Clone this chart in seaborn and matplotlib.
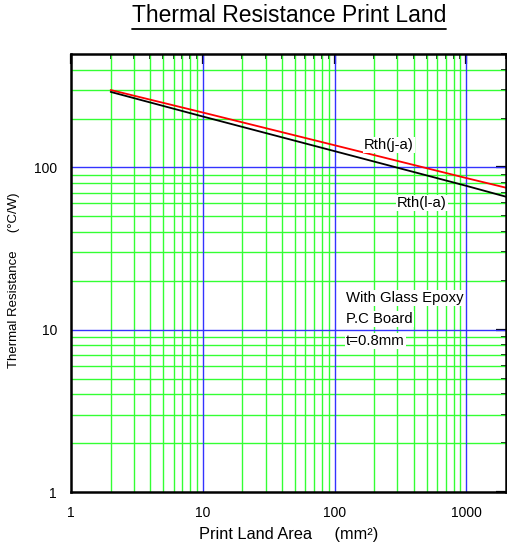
import matplotlib
matplotlib.use("Agg")
import matplotlib.pyplot as plt
import seaborn as sns
import pandas as pd
import numpy as np
from matplotlib.ticker import LogLocator, FixedLocator, NullFormatter, FixedFormatter

# Data
area = [2, 10, 100, 1000, 2000]
rth_ja = [300, 218, 137, 86, 75]
rth_la = [292, 206, 126, 77, 66]
x_ticks = [1, 10, 100, 1000]
x_tick_labels = ["1", "10", "100", "1000"]
y_ticks = [1, 10, 100]
y_tick_labels = ["1", "10", "100"]

sns.set_style("white")
plt.rcParams['font.family'] = ['Liberation Sans', 'DejaVu Sans']
plt.rcParams['text.color'] = 'black'
plt.rcParams['axes.labelcolor'] = 'black'
plt.rcParams['xtick.color'] = 'black'
plt.rcParams['ytick.color'] = 'black'

fig = plt.figure(figsize=(5.07, 5.52), dpi=100)
ax = fig.add_axes([71/507, 60/552, (506-71)/507, (492-54)/552])

df = pd.DataFrame({"area": area + area,
                   "rth": rth_ja + rth_la,
                   "series": ["Rth(j-a)"] * len(area) + ["Rth(l-a)"] * len(area)})
sns.lineplot(data=df, x="area", y="rth", hue="series",
             palette={"Rth(j-a)": "#ff0000", "Rth(l-a)": "#000000"},
             linewidth=1.3, legend=False, ax=ax, zorder=5)

ax.set_xscale("log")
ax.set_yscale("log")
ax.set_xlim(1, 2000)
ax.set_ylim(1, 500)

# grid lines
for dec in [1, 10, 100, 1000]:
    for m in range(2, 10):
        v = dec * m
        if 1 < v < 2000:
            ax.axvline(v, color="#33ff33", lw=1.0, zorder=1)
for v in [10, 100, 1000]:
    ax.axvline(v, color="#3333ff", lw=1.0, zorder=2)
for dec in [1, 10, 100]:
    for m in range(2, 10):
        v = dec * m
        if 1 < v < 500:
            ax.axhline(v, color="#33ff33", lw=1.0, zorder=1)
for v in [10, 100]:
    ax.axhline(v, color="#3333ff", lw=1.0, zorder=2)

ax.xaxis.set_major_locator(FixedLocator(x_ticks))
ax.xaxis.set_major_formatter(FixedFormatter(x_tick_labels))
ax.yaxis.set_major_locator(FixedLocator(y_ticks))
ax.yaxis.set_major_formatter(FixedFormatter(y_tick_labels))
ax.xaxis.set_minor_locator(LogLocator(base=10, subs=np.arange(2, 10)))
ax.yaxis.set_minor_locator(LogLocator(base=10, subs=np.arange(2, 10)))
ax.xaxis.set_minor_formatter(NullFormatter())
ax.yaxis.set_minor_formatter(NullFormatter())

ax.tick_params(which="major", direction="in", length=7, width=1.6,
               top=True, right=True, labelsize=10, pad=10)
ax.tick_params(which="minor", direction="in", length=3.5, width=1.2,
               top=True, right=True)
for s in ax.spines.values():
    s.set_color("black")
    s.set_linewidth(1.8)
    s.set_zorder(10)

ax.set_xlabel("Print Land Area     (mm²)", fontsize=11.8, labelpad=5)
ax.set_ylabel("Thermal Resistance     (°C/W)", fontsize=9.5, labelpad=2)
ax.yaxis.set_label_coords(-0.117, 0.484)

title_obj = fig.text(289/507, 1 - 16/552, "Thermal Resistance Print Land",
                     ha="center", va="center", fontsize=16.5)
fig.canvas.draw()
bb = title_obj.get_window_extent()
fig.add_artist(plt.Line2D([bb.x0 / fig.bbox.width, bb.x1 / fig.bbox.width],
                          [(bb.y0 - 1) / fig.bbox.height] * 2,
                          color="black", lw=1.3, transform=fig.transFigure))

box = dict(facecolor="white", edgecolor="none", pad=1)
def ann(xp, yp, s):
    fig.text(xp / 507, 1 - yp / 552, s, fontsize=10.7, ha="left", va="center",
             bbox=box, zorder=20)
ann(364, 145, "Rth(j-a)")
ann(397, 203, "Rth(l-a)")
ann(346, 298, "With Glass Epoxy")
ann(346, 319, "P.C Board")
ann(346, 341, "t=0.8mm")

fig.savefig("out.png", dpi=100, facecolor="white")
